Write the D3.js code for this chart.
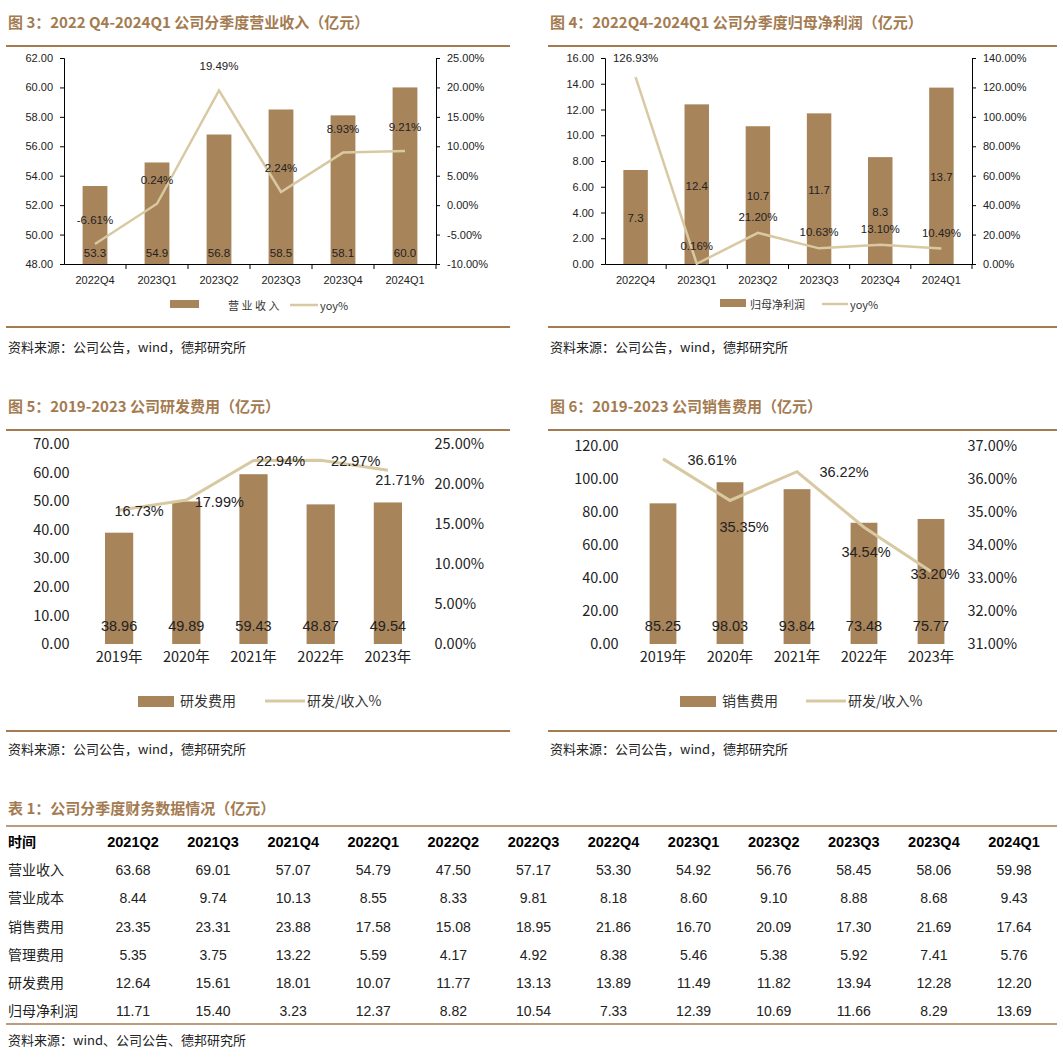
<!DOCTYPE html>
<html><head><meta charset="utf-8">
<script src="https://cdn.jsdelivr.net/npm/d3@7"></script>
<style>body{margin:0;background:#fff}svg{display:block;font-family:"Liberation Sans",Arial,sans-serif}</style>
</head><body><svg id="c" width="1063" height="1059"></svg>
<script>
const quarters=["2022Q4","2023Q1","2023Q2","2023Q3","2023Q4","2024Q1"];
const revenue=[53.3,54.9,56.8,58.5,58.1,60.0];
const revenueYoy=[-6.61,0.24,19.49,2.24,8.93,9.21];
const profit=[7.3,12.4,10.7,11.7,8.3,13.7];
const profitYoy=[126.93,0.16,21.20,10.63,13.10,10.49];
const years=["2019年","2020年","2021年","2022年","2023年"];
const rd=[38.96,49.89,59.43,48.87,49.54];
const rdRatio=[16.73,17.99,22.94,22.97,21.71];
const sales=[85.25,98.03,93.84,73.48,75.77];
const salesRatio=[36.61,35.35,36.22,34.54,33.20];
const tableCols=["2021Q2","2021Q3","2021Q4","2022Q1","2022Q2","2022Q3","2022Q4","2023Q1","2023Q2","2023Q3","2023Q4","2024Q1"];
const tableRows=["营业收入","营业成本","销售费用","管理费用","研发费用","归母净利润"];
const tableVals=[
["63.68","69.01","57.07","54.79","47.50","57.17","53.30","54.92","56.76","58.45","58.06","59.98"],
["8.44","9.74","10.13","8.55","8.33","9.81","8.18","8.60","9.10","8.88","8.68","9.43"],
["23.35","23.31","23.88","17.58","15.08","18.95","21.86","16.70","20.09","17.30","21.69","17.64"],
["5.35","3.75","13.22","5.59","4.17","4.92","8.38","5.46","5.38","5.92","7.41","5.76"],
["12.64","15.61","18.01","10.07","11.77","13.13","13.89","11.49","11.82","13.94","12.28","12.20"],
["11.71","15.40","3.23","12.37","8.82","10.54","7.33","12.39","10.69","11.66","8.29","13.69"]];

const BAR="#A8845A",LINE="#D9C9A3",TC="#A47B51",CJK='"Noto Sans CJK SC",sans-serif';
const svg=d3.select("#c");

function header(x1,x2,y,title,src,srcY,lineY2){
  svg.append("text").attr("x",x1+2).attr("y",y).attr("fill",TC).attr("font-weight","bold").attr("font-size",15).attr("font-family",CJK).text(title);
  svg.append("line").attr("x1",x1).attr("x2",x2).attr("y1",y+18).attr("y2",y+18).attr("stroke",TC).attr("stroke-width",2);
  if(lineY2){svg.append("line").attr("x1",x1).attr("x2",x2).attr("y1",lineY2).attr("y2",lineY2).attr("stroke",TC).attr("stroke-width",2);
  svg.append("text").attr("x",x1+2).attr("y",srcY).attr("font-size",13).attr("font-family",CJK).attr("fill","#222").text(src);}
}

function chart(o){
  const g=svg.append("g");
  const x=d3.scaleBand().domain(o.cats).range([o.x0,o.x1]).paddingInner(o.pad).paddingOuter(o.pad/2);
  const y=d3.scaleLinear().domain(o.yd).range([o.y1,o.y0]);
  const y2=d3.scaleLinear().domain(o.y2d).range([o.y1,o.y0]);
  const fs=o.fs;
  const la=d3.axisLeft(y).tickValues(d3.range(o.yd[0],o.yd[1]+1e-9,o.ystep)).tickFormat(d3.format(".2f")).tickSizeOuter(0).tickSize(o.axes?4:0);
  const ra=d3.axisRight(y2).tickValues(d3.range(o.y2d[0],o.y2d[1]+1e-9,o.y2step)).tickFormat(d=>d.toFixed(2)+"%").tickSizeOuter(0).tickSize(o.axes?4:0);
  const lg=g.append("g").attr("transform",`translate(${o.x0},0)`).call(la);
  const rg=g.append("g").attr("transform",`translate(${o.x1},0)`).call(ra);
  const bg=g.append("g").attr("transform",`translate(0,${o.y1})`).call(d3.axisBottom(x).tickSize(0).tickPadding(o.axes?12:8));
  if(o.axes){bg.selectAll(".tick").append("line").attr("x1",x.step()/2).attr("x2",x.step()/2).attr("y1",0).attr("y2",5).attr("stroke","#000");}
  [lg,rg,bg].forEach(a=>{a.selectAll("text").attr("font-size",fs).attr("fill","#222").attr("font-family",o.cjkTicks?CJK:null);
    a.selectAll("line").attr("stroke",o.axes?"#000":"none");a.select(".domain").attr("stroke",o.axes?"#000":"none");});
  lg.selectAll("text").attr("dx",o.ldx);rg.selectAll("text").attr("dx",o.rdx);
  g.selectAll(".bar").data(o.bars).join("rect").attr("x",(d,i)=>x(o.cats[i])).attr("width",x.bandwidth())
   .attr("y",d=>y(d)).attr("height",d=>o.y1-y(d)).attr("fill",BAR);
  const line=d3.line().x((d,i)=>x(o.cats[i])+x.bandwidth()/2).y(d=>y2(d));
  g.append("path").datum(o.line).attr("d",line).attr("fill","none").attr("stroke",LINE).attr("stroke-width",o.lw);
  g.selectAll(".bl").data(o.bars).join("text").attr("x",(d,i)=>x(o.cats[i])+x.bandwidth()/2).attr("y",(d,i)=>o.barLabelY(d,y,i))
   .attr("text-anchor","middle").attr("font-size",o.lfs).attr("fill","#222").text(o.barFmt);
  g.selectAll(".ll").data(o.line).join("text").attr("x",(d,i)=>x(o.cats[i])+x.bandwidth()/2+(o.lineDx?o.lineDx[i]:0)).attr("y",(d,i)=>y2(d)+o.lineDy[i])
   .attr("text-anchor","middle").attr("font-size",o.lfs).attr("fill","#222").text(d=>d.toFixed(2)+"%");
  const L=o.legend;
  g.append("rect").attr("x",L.x).attr("y",L.y-5).attr("width",L.w).attr("height",L.h).attr("fill",BAR);
  g.append("text").attr("x",L.tx).attr("y",L.y+5).attr("font-size",L.fs).attr("font-family",CJK).attr("fill","#333").text(L.t1);
  g.append("line").attr("x1",L.lx).attr("x2",L.lx+L.lw).attr("y1",L.y).attr("y2",L.y).attr("stroke",LINE).attr("stroke-width",o.lw);
  g.append("text").attr("x",L.lx+L.lw+2).attr("y",L.y+5).attr("font-size",L.fs).attr("font-family",CJK).attr("fill","#333").text(L.t2);
}

header(6,510,28,"图 3：2022 Q4-2024Q1 公司分季度营业收入（亿元）","资料来源：公司公告，wind，德邦研究所",352,327);
header(548,1057,28,"图 4：2022Q4-2024Q1 公司分季度归母净利润（亿元）","资料来源：公司公告，wind，德邦研究所",352,327);
header(6,510,412,"图 5：2019-2023 公司研发费用（亿元）","资料来源：公司公告，wind，德邦研究所",754,731);
header(548,1057,412,"图 6：2019-2023 公司销售费用（亿元）","资料来源：公司公告，wind，德邦研究所",754,731);

chart({cats:quarters,x0:64,x1:436,y0:58,y1:264,yd:[48,62],ystep:2,y2d:[-10,25],y2step:5,pad:0.6,axes:true,fs:11,lfs:11.5,lw:2.5,ldx:-4,rdx:4,
  bars:revenue,line:revenueYoy,barFmt:d=>d.toFixed(1),barLabelY:()=>257,lineDy:[-20,-20,-20,-20,-20,-20],
  legend:{x:170,y:305,w:29,h:8,tx:228,t1:"营 业 收 入",lx:290,lw:28,fs:11,t2:"yoy%"}});
chart({cats:quarters,x0:605,x1:972,y0:58,y1:264,yd:[0,16],ystep:2,y2d:[0,140],y2step:20,pad:0.6,axes:true,fs:11,lfs:11.5,lw:2.5,ldx:-4,rdx:4,
  bars:profit,line:profitYoy,barFmt:d=>d.toFixed(1),barLabelY:(d,y,i)=>[222,190,200,194,216,181][i],lineDy:[-15,-14,-12,-12,-12,-12],
  legend:{x:720,y:304,w:26,h:8,tx:750,t1:"归母净利润",lx:822,lw:26,fs:11,t2:"yoy%"}});
chart({cats:years,x0:85.5,x1:421.5,y0:444,y1:644,yd:[0,70],ystep:10,y2d:[0,25],y2step:5,pad:0.58,axes:false,fs:14.5,lfs:14.5,lw:3,cjkTicks:true,ldx:-13,rdx:10,
  bars:rd,line:rdRatio,barFmt:d=>d.toFixed(2),barLabelY:()=>631,lineDy:[6,7,6,6,15],lineDx:[20,33,27,35,12],
  legend:{x:138,y:701,w:36,h:11,tx:180,t1:"研发费用",lx:265,lw:40,fs:14,t2:"研发/收入%"}});
chart({cats:years,x0:629.5,x1:964.5,y0:446,y1:644,yd:[0,120],ystep:20,y2d:[31,37],y2step:1,pad:0.6,axes:false,fs:14.5,lfs:14.5,lw:3,cjkTicks:true,ldx:-8,rdx:0,
  bars:sales,line:salesRatio,barFmt:d=>d.toFixed(2),barLabelY:()=>631,lineDy:[6,32,5,30,8],lineDx:[49,14,47,2,4],
  legend:{x:680,y:701,w:36,h:11,tx:722,t1:"销售费用",lx:806,lw:40,fs:14,t2:"研发/收入%"}});

svg.append("text").attr("x",8).attr("y",814).attr("fill",TC).attr("font-weight","bold").attr("font-size",15).attr("font-family",CJK).text("表 1：公司分季度财务数据情况（亿元）");
svg.append("line").attr("x1",6).attr("x2",1057).attr("y1",826).attr("y2",826).attr("stroke",TC).attr("stroke-width",1.5);
svg.append("line").attr("x1",6).attr("x2",1057).attr("y1",1024).attr("y2",1024).attr("stroke",TC).attr("stroke-width",1.5);
const cx=d3.scalePoint().domain(tableCols).range([133,1014]);
const ry=d3.scalePoint().domain(["时间",...tableRows]).range([847,1016]);
svg.append("text").attr("x",8).attr("y",ry("时间")).attr("font-weight","bold").attr("font-size",14).attr("font-family",CJK).text("时间");
svg.selectAll(".th").data(tableCols).join("text").attr("x",d=>cx(d)).attr("y",ry("时间")).attr("text-anchor","middle").attr("font-weight","bold").attr("font-size",14.5).text(d=>d);
tableRows.forEach((r,ri)=>{
  svg.append("text").attr("x",8).attr("y",ry(r)).attr("font-size",14).attr("font-family",CJK).attr("fill","#222").text(r);
  svg.selectAll(".td"+ri).data(tableVals[ri]).join("text").attr("x",(d,i)=>cx(tableCols[i])).attr("y",ry(r)).attr("text-anchor","middle").attr("font-size",14).attr("fill","#222").text(d=>d);
});
svg.append("text").attr("x",8).attr("y",1045).attr("font-size",13).attr("font-family",CJK).attr("fill","#222").text("资料来源：wind、公司公告、德邦研究所");
</script></body></html>
